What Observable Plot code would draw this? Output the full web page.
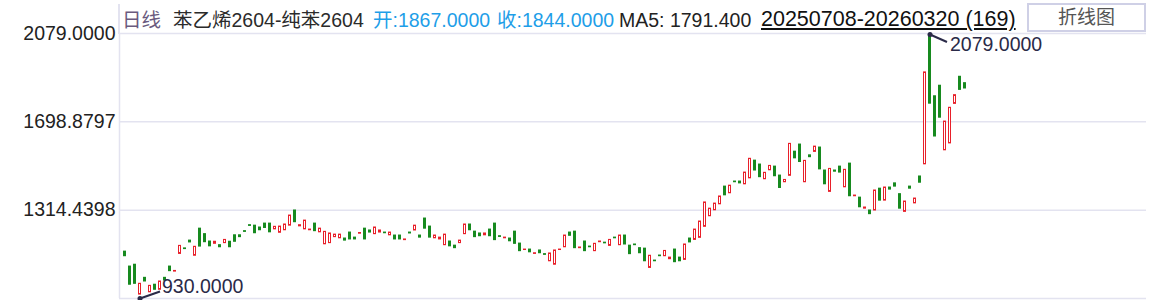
<!DOCTYPE html>
<html><head><meta charset="utf-8">
<script src="https://cdn.jsdelivr.net/npm/d3@7"></script>
<script src="https://cdn.jsdelivr.net/npm/@observablehq/plot@0.6"></script>
<style>
body{margin:0;background:#fff;font-family:"Liberation Sans",Arial,"Noto Sans CJK SC",sans-serif;}
#wrap{position:relative;width:1149px;height:300px;overflow:hidden;background:#fff;}
#chart{position:absolute;left:0;top:0;}
.h{position:absolute;top:10px;font-size:19.5px;line-height:20px;white-space:nowrap;}
#btn{position:absolute;left:1027px;top:3px;width:115px;height:25px;border:2px solid #cfd0e6;color:#555;font-size:19px;line-height:25px;text-align:center;background:#fff;}
#vline{position:absolute;left:118px;top:4px;width:1.5px;height:30px;background:#e3e3f0;}
</style></head>
<body>
<div id="wrap">
  <div id="chart"></div>
  <div id="vline"></div>
  <div class="h" id="period" style="left:122px;color:#6a5a7e"></div>
  <div class="h" id="name" style="left:173px;color:#2b2b2b"></div>
  <div class="h" id="open" style="left:373px;color:#1e9ee8"></div>
  <div class="h" id="close" style="left:497px;color:#1e9ee8"></div>
  <div class="h" id="ma" style="left:619px;color:#222"></div>
  <div class="h" id="range" style="left:761px;top:8px;color:#111;text-decoration:underline;font-size:21.5px;line-height:22px"></div>
  <div id="btn"></div>
</div>
<script>
// ---- data ----
const periodLabel = "日线";
const contractName = "苯乙烯2604-纯苯2604";
const dateRange = "20250708-20260320";
const buttonLabel = "折线图";

const opens = [
1134,1069,1077,947,1020,957,990,968,1020,1069,
1047,1124,1148,1182,1116,1234,1210,1178,1168,1162,
1171,1177,1205,1205,1223,1249,1247,1239,1256,1256,
1231,1216,1227,1247,1313,1244,1231,1227,1256,1218,
1166,1171,1197,1192,1191,1217,1195,1212,1234,1226,
1210,1217,1217,1205,1204,1204,1184,1217,1226,1204,
1278,1243,1192,1187,1162,1178,1160,1171,1210,1252,
1221,1213,1205,1230,1256,1201,1192,1191,1221,1169,
1141,1143,1124,1139,1123,1092,1077,1141,1153,1217,
1221,1149,1178,1156,1136,1175,1173,1159,1195,1162,
1204,1160,1165,1149,1147,1063,1095,1117,1114,1101,
1143,1108,1098,1191,1185,1194,1242,1288,1314,1340,
1417,1388,1439,1439,1427,1453,1530,1513,1449,1488,
1504,1465,1436,1464,1569,1600,1436,1553,1568,1587,
1487,1394,1487,1504,1414,1517,1375,1369,1321,1313,
1313,1408,1356,1413,1431,1384,1307,1417,1344,1461,
1514,2079,1810,1856,1575,1605,1777,1895,1867
];
const closes = [
1114,990,994,994,1004,985,968,1004,1008,1049,
1050,1159,1145,1174,1155,1156,1175,1157,1177,1153,
1185,1153,1177,1197,1220,1246,1214,1227,1237,1218,
1242,1243,1252,1291,1262,1249,1269,1230,1223,1234,
1220,1213,1208,1208,1182,1187,1187,1215,1187,1217,
1239,1226,1214,1217,1187,1187,1187,1213,1247,1195,
1234,1195,1204,1195,1208,1157,1149,1182,1252,1227,
1197,1201,1213,1201,1184,1198,1195,1179,1168,1136,
1143,1131,1127,1127,1120,1126,1139,1143,1204,1203,
1149,1152,1136,1153,1168,1178,1170,1185,1192,1204,
1165,1123,1162,1127,1092,1116,1092,1114,1137,1108,
1088,1092,1165,1174,1230,1265,1348,1321,1343,1374,
1379,1421,1436,1431,1478,1538,1487,1458,1477,1507,
1462,1411,1446,1603,1540,1524,1529,1545,1591,1492,
1427,1494,1482,1478,1490,1375,1378,1327,1326,1297,
1400,1356,1413,1404,1417,1321,1352,1408,1365,1434,
1914,1778,1635,1717,1700,1760,1815,1838,1844
];
const yTicks = [930, 1314.4398, 1698.8797, 2083.3196];
const yTickLabels = ["", "1314.4398", "1698.8797", "2079.0000"];
const lowPoint = {index: 3, value: 930, label: "930.0000"};
const highPoint = {index: 161, value: 2079, label: "2079.0000"};

// ---- derived ----
const red = "#e8202a", green = "#178a1f", ink = "#2a2a48";
const candles = opens.map((o, i) => ({i, open: o, close: closes[i]}));
const ups = candles.filter(d => d.close >= d.open);
const downs = candles.filter(d => d.close < d.open);
const n = opens.length;
const last = candles[n - 1];
const ma5 = d3.mean(closes.slice(-5));

document.getElementById("period").textContent = periodLabel;
document.getElementById("name").textContent = contractName;
document.getElementById("open").textContent = "开:" + last.open.toFixed(4);
document.getElementById("close").textContent = "收:" + last.close.toFixed(4);
document.getElementById("ma").textContent = "MA5: " + ma5.toFixed(3);
document.getElementById("range").textContent = `${dateRange} (${n})`;
document.getElementById("btn").textContent = buttonLabel;

const W = 1149, H = 300, mL = 119, mR = 3, mT = 33, mB = 2;
const step = 5; // px per candle
const x0 = -(124.5 - mL) / step;
const xDomain = [x0, x0 + (W - mL - mR) / step];
const yDomain = [yTicks[0], yTicks[yTicks.length - 1]];
const vPerPx = (yDomain[1] - yDomain[0]) / (H - mT - mB);
const labelOf = new Map(yTicks.map((t, i) => [t, yTickLabels[i]]));

const chart = Plot.plot({
  width: W, height: H,
  marginLeft: mL, marginRight: mR, marginTop: mT, marginBottom: mB,
  style: {fontFamily: '"Liberation Sans", Arial, sans-serif', background: "#fff"},
  x: {domain: xDomain, axis: null},
  y: {domain: yDomain, axis: null},
  marks: [
    Plot.ruleY(yTicks, {stroke: "#e3e3f0", strokeWidth: 1.5}),
    Plot.ruleX([xDomain[0]], {stroke: "#e3e3f0", strokeWidth: 1.5}),
    Plot.axisY(yTicks, {tickSize: 0, tickPadding: 4, tickFormat: d => labelOf.get(d), fontSize: 19.5, fill: "#222"}),
    Plot.rect(downs, {x1: d => d.i - 0.2, x2: d => d.i + 0.2, y1: "open", y2: "close", fill: green, stroke: green, strokeWidth: 1}),
    Plot.rect(ups, {x1: d => d.i - 0.2, x2: d => d.i + 0.2, y1: "open", y2: "close", fill: "#fff", stroke: red, strokeWidth: 1}),
    Plot.link([lowPoint], {x1: "index", y1: "value", x2: d => d.index + 4, y2: d => d.value + 7 * vPerPx, stroke: ink, strokeWidth: 2}),
    Plot.link([highPoint], {x1: "index", y1: "value", x2: d => d.index + 3.4, y2: d => d.value - 7.5 * vPerPx, stroke: ink, strokeWidth: 2}),
    Plot.dot([lowPoint, highPoint], {x: "index", y: "value", r: 2.5, fill: ink}),
    Plot.text([lowPoint], {x: "index", y: "value", text: "label", textAnchor: "start", dx: 22, dy: -12, fontSize: 19.5, fill: ink}),
    Plot.text([highPoint], {x: "index", y: "value", text: "label", textAnchor: "start", dx: 20, dy: 10, fontSize: 19.5, fill: ink})
  ]
});
document.getElementById("chart").appendChild(chart);
</script>
</body></html>
